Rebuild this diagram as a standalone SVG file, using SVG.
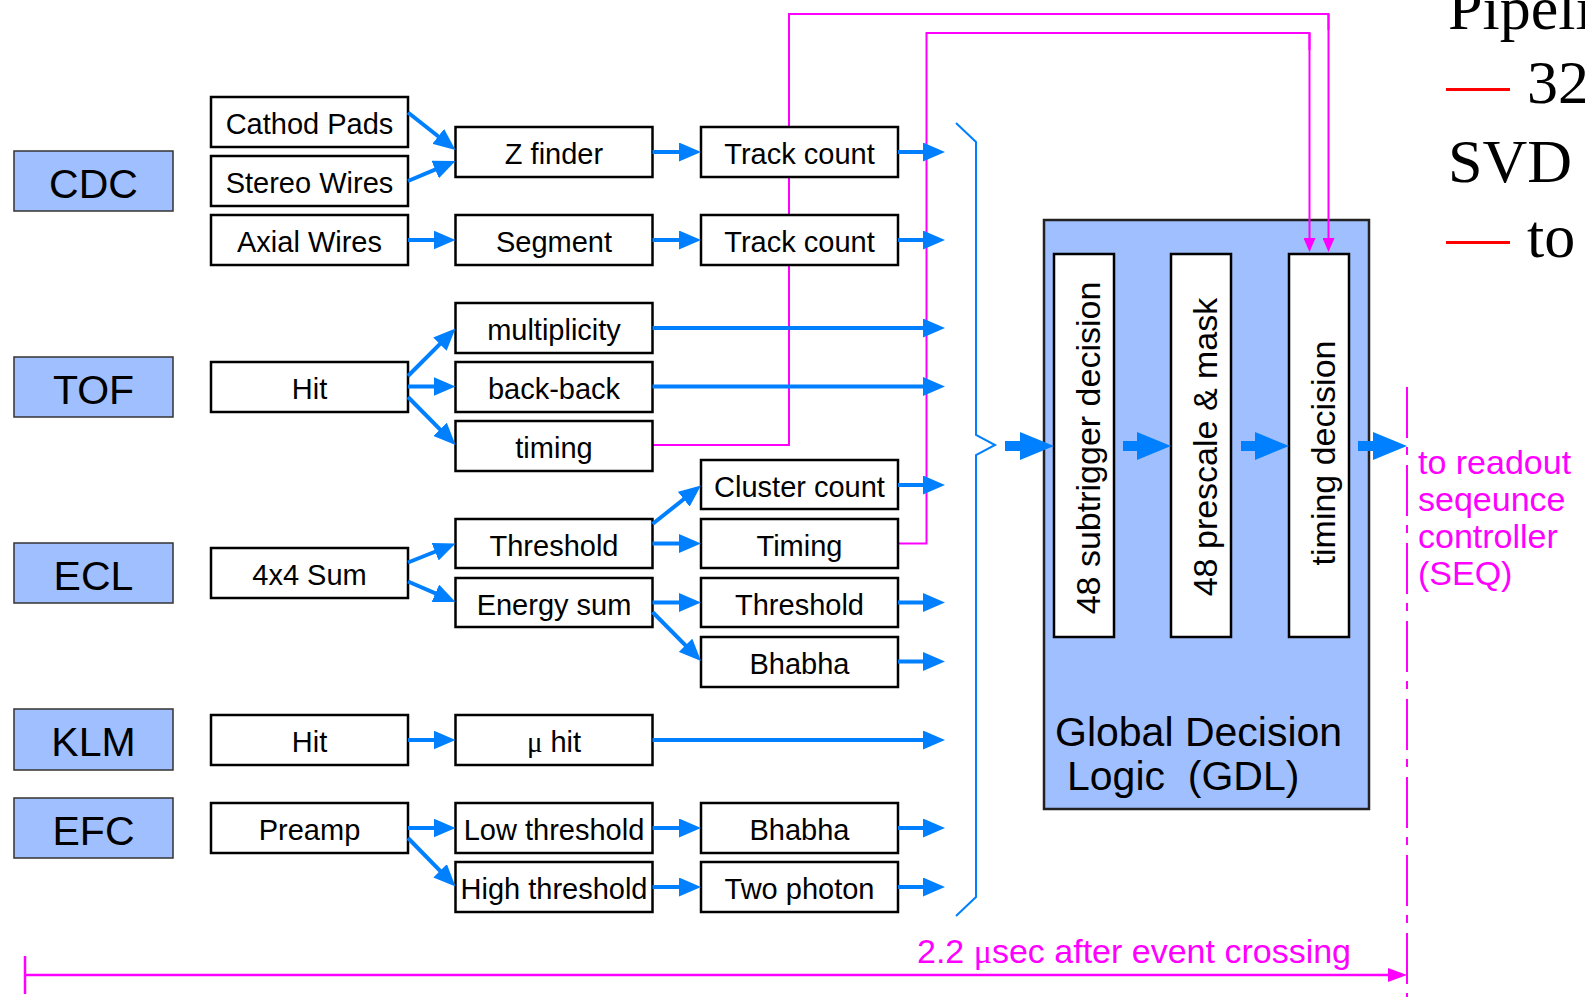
<svg xmlns="http://www.w3.org/2000/svg" width="1585" height="997" viewBox="0 0 1585 997">
<style>
.box{fill:#fff;stroke:#000;stroke-width:2.5}
.det{fill:#a0bfff;stroke:#333;stroke-width:1.5}
.gdl{fill:#a0bfff;stroke:#222;stroke-width:2.5}
.t{font-family:"Liberation Sans",Arial,sans-serif;font-size:29px;text-anchor:middle;fill:#000}
.dt{font-size:41px}
.vt{font-size:34px}
.gt{font-family:"Liberation Sans",Arial,sans-serif;font-size:41px;fill:#000}
.mt{font-family:"Liberation Sans",Arial,sans-serif;font-size:34px;fill:#ff00ff}
.serif{font-family:"Liberation Serif","Times New Roman",serif}
.rt{font-family:"Liberation Serif","Times New Roman",serif;font-size:62px;fill:#000}
.arr{stroke:#0080ff;stroke-width:4;fill:none;marker-end:url(#ah)}
.big{stroke:#0080ff;stroke-width:10;fill:none;marker-end:url(#bh)}
.mag{stroke:#ff00ff;stroke-width:2;fill:none}
.magarr{marker-end:url(#mh)}
</style>
<defs>
<marker id="ah" markerUnits="userSpaceOnUse" markerWidth="22" markerHeight="19" refX="14" refY="9.5" orient="auto"><path d="M0,0 L22,9.5 L0,19 z" fill="#0080ff"/></marker>
<marker id="bh" markerUnits="userSpaceOnUse" markerWidth="34" markerHeight="28" refX="20" refY="14" orient="auto"><path d="M0,0 L34,14 L0,28 z" fill="#0080ff"/></marker>
<marker id="mh" markerUnits="userSpaceOnUse" markerWidth="14" markerHeight="12" refX="10" refY="6" orient="auto"><path d="M0,0 L14,6 L0,12 z" fill="#ff00ff"/></marker>
<marker id="th" markerUnits="userSpaceOnUse" markerWidth="19" markerHeight="14" refX="14" refY="7" orient="auto"><path d="M0,0 L19,7 L0,14 z" fill="#ff00ff"/></marker>
</defs>
<rect width="1585" height="997" fill="#fff"/>

<g id="timing-lines">
<polyline class="mag" points="652,445 789,445 789,14 1328.5,14 1328.5,30"/>
<polyline class="mag" points="898,543.5 926.5,543.5 926.5,33 1309.5,33 1309.5,50"/>
</g>

<g id="detectors">
<g id="cdc"><rect class="det" x="14" y="151" width="159" height="60"/><text class="t dt" x="93.5" y="197.5">CDC</text></g>
<g id="tof"><rect class="det" x="14" y="357" width="159" height="60"/><text class="t dt" x="93.5" y="403.5">TOF</text></g>
<g id="ecl"><rect class="det" x="14" y="543" width="159" height="60"/><text class="t dt" x="93.5" y="589.5">ECL</text></g>
<g id="klm"><rect class="det" x="14" y="709" width="159" height="61"/><text class="t dt" x="93.5" y="756">KLM</text></g>
<g id="efc"><rect class="det" x="14" y="798" width="159" height="60"/><text class="t dt" x="93.5" y="844.5">EFC</text></g>
</g>

<g id="col2">
<g id="cathod-pads"><rect class="box" x="211" y="97" width="197" height="50"/><text class="t" x="309.5" y="134">Cathod Pads</text></g>
<g id="stereo-wires"><rect class="box" x="211" y="156" width="197" height="50"/><text class="t" x="309.5" y="193">Stereo Wires</text></g>
<g id="axial-wires"><rect class="box" x="211" y="215" width="197" height="50"/><text class="t" x="309.5" y="252">Axial Wires</text></g>
<g id="tof-hit"><rect class="box" x="211" y="362" width="197" height="50"/><text class="t" x="309.5" y="399">Hit</text></g>
<g id="sum4x4"><rect class="box" x="211" y="548" width="197" height="50"/><text class="t" x="309.5" y="585">4x4 Sum</text></g>
<g id="klm-hit"><rect class="box" x="211" y="715" width="197" height="50"/><text class="t" x="309.5" y="752">Hit</text></g>
<g id="preamp"><rect class="box" x="211" y="803" width="197" height="50"/><text class="t" x="309.5" y="840">Preamp</text></g>
</g>

<g id="col3">
<g id="z-finder"><rect class="box" x="455.5" y="127" width="197" height="50"/><text class="t" x="554" y="164">Z finder</text></g>
<g id="segment"><rect class="box" x="455.5" y="215" width="197" height="50"/><text class="t" x="554" y="252">Segment</text></g>
<g id="multiplicity"><rect class="box" x="455.5" y="303" width="197" height="50"/><text class="t" x="554" y="340">multiplicity</text></g>
<g id="back-back"><rect class="box" x="455.5" y="362" width="197" height="50"/><text class="t" x="554" y="399">back-back</text></g>
<g id="tof-timing"><rect class="box" x="455.5" y="421" width="197" height="50"/><text class="t" x="554" y="458">timing</text></g>
<g id="ecl-threshold"><rect class="box" x="455.5" y="519" width="197" height="49"/><text class="t" x="554" y="556">Threshold</text></g>
<g id="energy-sum"><rect class="box" x="455.5" y="578" width="197" height="49"/><text class="t" x="554" y="615">Energy sum</text></g>
<g id="mu-hit"><rect class="box" x="455.5" y="715" width="197" height="50"/><text class="t" x="554" y="752"><tspan class="serif">μ</tspan> hit</text></g>
<g id="low-threshold"><rect class="box" x="455.5" y="803" width="197" height="50"/><text class="t" x="554" y="840">Low threshold</text></g>
<g id="high-threshold"><rect class="box" x="455.5" y="862" width="197" height="50"/><text class="t" x="554" y="899">High threshold</text></g>
</g>

<g id="col4">
<g id="track-count-1"><rect class="box" x="701" y="127" width="197" height="50"/><text class="t" x="799.5" y="164">Track count</text></g>
<g id="track-count-2"><rect class="box" x="701" y="215" width="197" height="50"/><text class="t" x="799.5" y="252">Track count</text></g>
<g id="cluster-count"><rect class="box" x="701" y="460" width="197" height="49"/><text class="t" x="799.5" y="497">Cluster count</text></g>
<g id="ecl-timing"><rect class="box" x="701" y="519" width="197" height="49"/><text class="t" x="799.5" y="556">Timing</text></g>
<g id="ecl-threshold-2"><rect class="box" x="701" y="578" width="197" height="49"/><text class="t" x="799.5" y="615">Threshold</text></g>
<g id="ecl-bhabha"><rect class="box" x="701" y="637" width="197" height="50"/><text class="t" x="799.5" y="674">Bhabha</text></g>
<g id="efc-bhabha"><rect class="box" x="701" y="803" width="197" height="50"/><text class="t" x="799.5" y="840">Bhabha</text></g>
<g id="two-photon"><rect class="box" x="701" y="862" width="197" height="50"/><text class="t" x="799.5" y="899">Two photon</text></g>
</g>

<g id="gdl">
<rect class="gdl" x="1044" y="220" width="325" height="589"/>
<g id="subtrigger"><rect class="box" x="1054" y="254" width="60" height="383"/><text class="t vt" transform="translate(1100,448) rotate(-90)">48 subtrigger decision</text></g>
<g id="prescale"><rect class="box" x="1171" y="254" width="60" height="383"/><text class="t vt" transform="translate(1217,447) rotate(-90)">48 prescale &amp; mask</text></g>
<g id="timing-decision"><rect class="box" x="1289" y="254" width="60" height="383"/><text class="t vt" transform="translate(1334.5,453) rotate(-90)">timing decision</text></g>
<text class="gt" x="1055" y="746">Global Decision</text>
<text class="gt" x="1067" y="790" xml:space="preserve">Logic  (GDL)</text>
</g>

<g id="connectors">
<line class="mag magarr" x1="1328.5" y1="14" x2="1328.5" y2="248"/>
<line class="mag magarr" x1="1309.5" y1="33" x2="1309.5" y2="248"/>
<line class="arr" x1="408" y1="112.5" x2="449.2" y2="145"/>
<line class="arr" x1="408" y1="181" x2="448.1" y2="164.1"/>
<line class="arr" x1="408" y1="240" x2="447.5" y2="240"/>
<line class="arr" x1="652.5" y1="152" x2="693" y2="152"/>
<line class="arr" x1="652.5" y1="240" x2="693" y2="240"/>
<line class="arr" x1="408" y1="376" x2="449.8" y2="334.2"/>
<line class="arr" x1="408" y1="386.5" x2="447.5" y2="386.5"/>
<line class="arr" x1="408" y1="397" x2="449.9" y2="439.3"/>
<line class="arr" x1="408" y1="562.5" x2="448.1" y2="546.5"/>
<line class="arr" x1="408" y1="581.5" x2="448.2" y2="598.8"/>
<line class="arr" x1="652.5" y1="524" x2="694.7" y2="490.5"/>
<line class="arr" x1="652.5" y1="543.5" x2="693" y2="543.5"/>
<line class="arr" x1="652.5" y1="602.5" x2="693" y2="602.5"/>
<line class="arr" x1="652.5" y1="612" x2="695.4" y2="655.3"/>
<line class="arr" x1="408" y1="740" x2="447.5" y2="740"/>
<line class="arr" x1="408" y1="828" x2="447.5" y2="828"/>
<line class="arr" x1="408" y1="838" x2="449.9" y2="880.8"/>
<line class="arr" x1="652.5" y1="828" x2="693" y2="828"/>
<line class="arr" x1="652.5" y1="887" x2="693" y2="887"/>
<line class="arr" x1="898" y1="152" x2="937" y2="152"/>
<line class="arr" x1="898" y1="240" x2="937" y2="240"/>
<line class="arr" x1="652.5" y1="328" x2="937" y2="328"/>
<line class="arr" x1="652.5" y1="386.5" x2="937" y2="386.5"/>
<line class="arr" x1="898" y1="485" x2="937" y2="485"/>
<line class="arr" x1="898" y1="602.5" x2="937" y2="602.5"/>
<line class="arr" x1="898" y1="661.5" x2="937" y2="661.5"/>
<line class="arr" x1="652.5" y1="740" x2="937" y2="740"/>
<line class="arr" x1="898" y1="828" x2="937" y2="828"/>
<line class="arr" x1="898" y1="887" x2="937" y2="887"/>
<path d="M956,123 L976,142 L976,435 L995,445 L976,455 L976,897 L956,916" fill="none" stroke="#0080ff" stroke-width="2"/>
<line class="big" x1="1005" y1="446" x2="1040" y2="446"/>
<line class="big" x1="1123" y1="446" x2="1157" y2="446"/>
<line class="big" x1="1241" y1="446" x2="1275" y2="446"/>
<line class="big" x1="1358" y1="446" x2="1393" y2="446"/>
</g>

<g id="output">
<line x1="1407" y1="387" x2="1407" y2="997" stroke="#ff00ff" stroke-width="2" stroke-dasharray="51 9 8 10"/>
<text class="mt" x="1418" y="474">to readout</text>
<text class="mt" x="1418" y="511">seqeunce</text>
<text class="mt" x="1418" y="548">controller</text>
<text class="mt" x="1418" y="585">(SEQ)</text>
</g>

<g id="timeline">
<line x1="25" y1="956" x2="25" y2="994" stroke="#ff00ff" stroke-width="2.5"/>
<line x1="25" y1="975" x2="1402" y2="975" stroke="#ff00ff" stroke-width="2.5" marker-end="url(#th)"/>
<text class="mt" x="917" y="963">2.2 <tspan class="serif">μ</tspan>sec after event crossing</text>
</g>

<g id="side-text">
<text class="rt" x="1448" y="29">Pipeli</text>
<line x1="1446" y1="89.5" x2="1510" y2="89.5" stroke="#ff0000" stroke-width="3"/>
<text class="rt" x="1527" y="103">32</text>
<text class="rt" x="1448" y="182">SVD</text>
<line x1="1446" y1="242.5" x2="1510" y2="242.5" stroke="#ff0000" stroke-width="3"/>
<text class="rt" x="1527" y="257">to</text>
</g>
</svg>
